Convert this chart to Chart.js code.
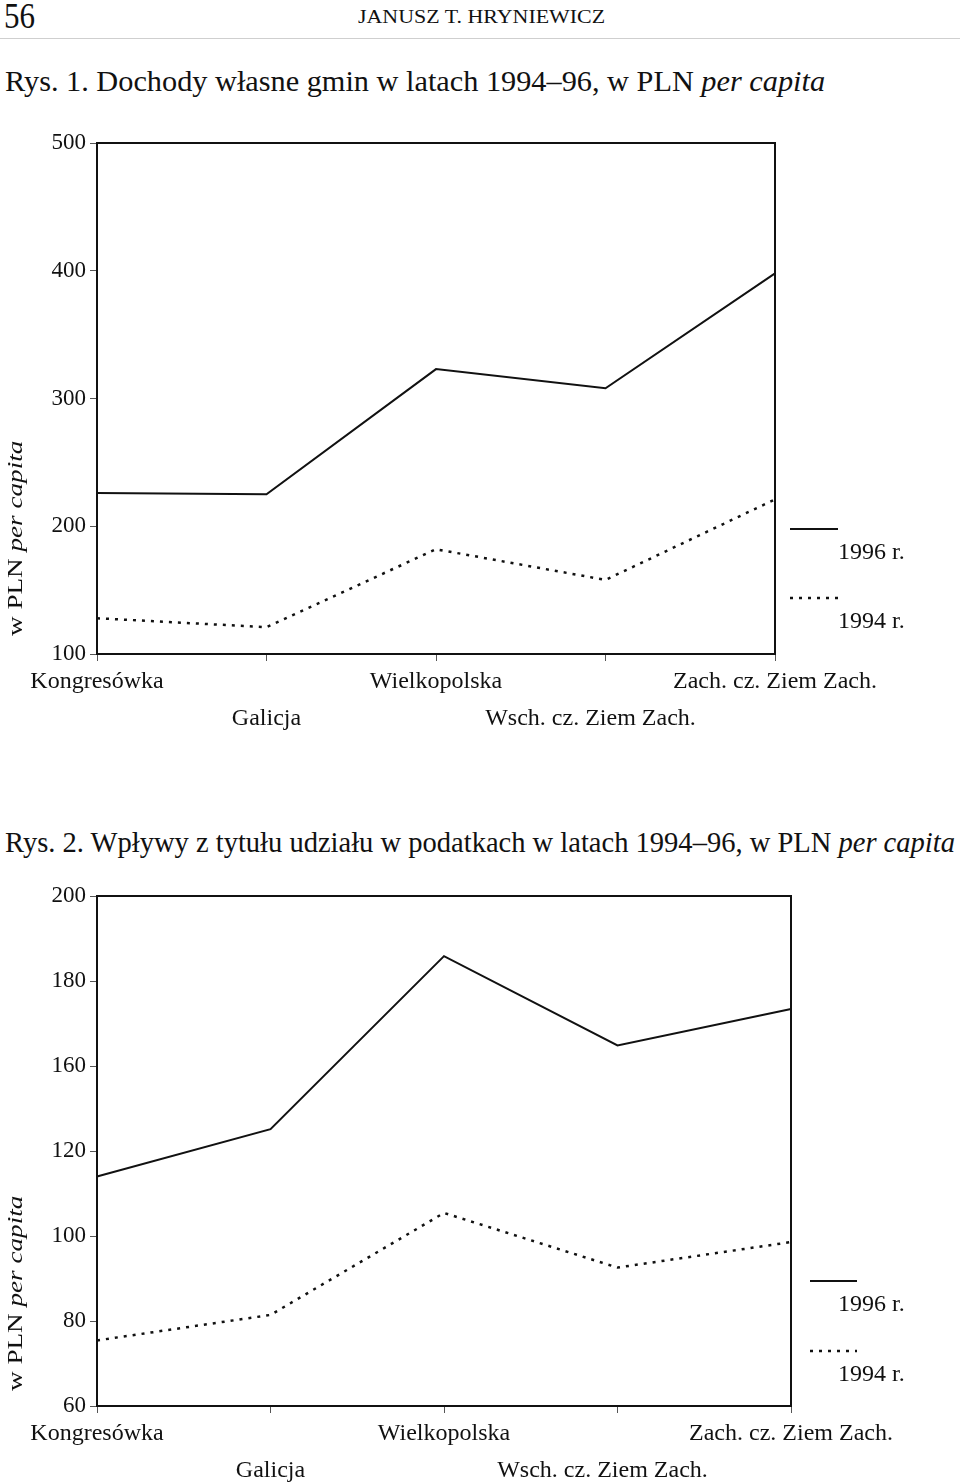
<!DOCTYPE html>
<html>
<head>
<meta charset="utf-8">
<title>Rys. 1 i Rys. 2</title>
<script src="https://cdn.jsdelivr.net/npm/chart.js"></script>
<style>
  body { margin: 0; background: #fff; font-family: "Liberation Serif", serif; color: #111; }
  #page { position: relative; width: 960px; height: 1484px; overflow: hidden; }
  .txt { position: absolute; white-space: nowrap; line-height: 1; transform-origin: 0 0; }
  .box { position: absolute; left: 0; width: 960px; }
  .rule { position: absolute; top: 38px; left: 0; width: 960px; height: 0; border-top: 1px solid #cfcfcf; }
</style>
</head>
<body>
<div id="page">
  <div class="txt" style="left:4px;top:-2px;font-size:36px;" data-w="31">56</div>
  <div class="txt" style="left:358px;top:7px;font-size:19px;" data-w="247">JANUSZ T. HRYNIEWICZ</div>
  <div class="rule"></div>

  <div class="txt" style="left:5px;top:66px;font-size:30px;" data-w="820">Rys. 1. Dochody własne gmin w latach 1994–96, w PLN <i>per capita</i></div>
  <div class="box" style="top:110px;height:640px;"><canvas id="rys1" width="960" height="640"></canvas></div>
  <div class="txt rot" style="left:4px;top:636px;font-size:22px;" data-w="195">w PLN <i>per capita</i></div>

  <div class="txt" style="left:5px;top:827px;font-size:30px;" data-w="950">Rys. 2. Wpływy z tytułu udziału w podatkach w latach 1994–96, w PLN <i>per capita</i></div>
  <div class="box" style="top:870px;height:614px;"><canvas id="rys2" width="960" height="614"></canvas></div>
  <div class="txt rot" style="left:4px;top:1391px;font-size:22px;" data-w="195">w PLN <i>per capita</i></div>
</div>

<script>
// regiony (oś X)
const regions = ['Kongresówka', 'Galicja', 'Wielkopolska', 'Wsch. cz. Ziem Zach.', 'Zach. cz. Ziem Zach.'];
const seriesNames = ['1996 r.', '1994 r.'];

// Rys. 1 - dochody własne gmin
const dochody1996 = [226, 225, 323, 308, 398];
const dochody1994 = [128, 121, 182, 158, 221];
const dochodyTicks = [100, 200, 300, 400, 500];

// Rys. 2 - wpływy z udziału w podatkach (etykiety osi jak w oryginale)
const wplywy1996 = [123, 136, 183.5, 159, 169];
const wplywy1994 = [78, 85, 113, 98, 105];
const wplywyTicks = [60, 80, 100, 120, 160, 180, 200];

const FONT = '"Liberation Serif", serif';
Chart.defaults.font.family = FONT;
Chart.defaults.color = '#111';

// ramka wokół obszaru wykresu
const framePlugin = {
    id: 'frame',
    afterDatasetsDraw(chart) {
        const a = chart.chartArea, ctx = chart.ctx;
        ctx.save();
        ctx.strokeStyle = '#111';
        ctx.lineWidth = 2;
        ctx.strokeRect(a.left, a.top, a.right - a.left, a.bottom - a.top);
        ctx.restore();
    }
};

// legenda z boku: odcinek linii, pod nim podpis
const sideLegend = {
    id: 'sideLegend',
    afterDraw(chart, args, o) {
        const ctx = chart.ctx;
        chart.data.datasets.forEach((ds, i) => {
            const y = o.top + i * o.gap;
            ctx.save();
            ctx.strokeStyle = ds.borderColor;
            ctx.lineWidth = ds.borderWidth;
            ctx.setLineDash(ds.borderDash || []);
            ctx.beginPath();
            ctx.moveTo(o.left, y);
            ctx.lineTo(o.left + o.len, y);
            ctx.stroke();
            ctx.setLineDash([]);
            ctx.fillStyle = '#111';
            ctx.font = '24px ' + FONT;
            ctx.textBaseline = 'middle';
            ctx.fillText(ds.label, o.textLeft, y + o.textDy);
            ctx.restore();
        });
    }
};

// etykiety osi X w dwóch rzędach, "Wsch. cz." lekko w lewo jak w skanie
function xLabel(v, i) {
    let t = regions[i];
    if (i === 3) t = t + '\u00a0\u00a0\u00a0\u00a0\u00a0';
    return i % 2 ? ['', t] : t;
}

function makeChart(id, s96, s94, yLabels, pad, xHeight, legend) {
    const yMin = yLabels[0], yMax = yLabels[yLabels.length - 1];
    const step = (yMax - yMin) / (yLabels.length - 1);
    return new Chart(document.getElementById(id), {
        type: 'line',
        data: {
            labels: regions,
            datasets: [
                { label: seriesNames[0], data: s96, borderColor: '#111', borderWidth: 2, pointRadius: 0, tension: 0, fill: false },
                { label: seriesNames[1], data: s94, borderColor: '#111', borderWidth: 2.5, borderDash: [3, 6], pointRadius: 0, tension: 0, fill: false }
            ]
        },
        options: {
            responsive: false,
            animation: false,
            events: [],
            layout: { autoPadding: false, padding: pad },
            plugins: {
                legend: { display: false },
                tooltip: { enabled: false },
                sideLegend: legend
            },
            scales: {
                x: {
                    type: 'category',
                    offset: false,
                    border: { display: false },
                    grid: { drawOnChartArea: false, offset: false, tickLength: 7, color: '#555' },
                    ticks: {
                        autoSkip: false, maxRotation: 0, minRotation: 0, padding: 2,
                        font: { size: 24, lineHeight: 1.55 },
                        callback: xLabel
                    },
                    afterFit: s => { s.height = xHeight; }
                },
                y: {
                    min: yMin, max: yMax,
                    border: { display: false },
                    grid: { drawOnChartArea: false, tickLength: 7, color: '#555' },
                    afterBuildTicks: s => { s.ticks = yLabels.map((t, i) => ({ value: yMin + i * step })); },
                    ticks: {
                        padding: 4,
                        font: { size: 23 },
                        callback: (v, i) => String(yLabels[i])
                    },
                    afterFit: s => { s.width = 97; }
                }
            }
        },
        plugins: [framePlugin, sideLegend]
    });
}

makeChart('rys1', dochody1996, dochody1994, dochodyTicks,
    { top: 33, right: 185, bottom: 0, left: 0 }, 96,
    { left: 790, top: 419, len: 48, gap: 69, textLeft: 838, textDy: 24 });

makeChart('rys2', wplywy1996, wplywy1994, wplywyTicks,
    { top: 26, right: 169, bottom: 0, left: 0 }, 78,
    { left: 810, top: 411, len: 47, gap: 70, textLeft: 838, textDy: 24 });

// dopasowanie szerokości tekstów do skanu (tekst w oryginale jest zwężony)
document.querySelectorAll('[data-w]').forEach(el => {
    const k = (+el.dataset.w) / el.offsetWidth;
    el.style.transform = (el.classList.contains('rot') ? 'rotate(-90deg) ' : '') + 'scaleX(' + k + ')';
});
</script>
</body>
</html>
